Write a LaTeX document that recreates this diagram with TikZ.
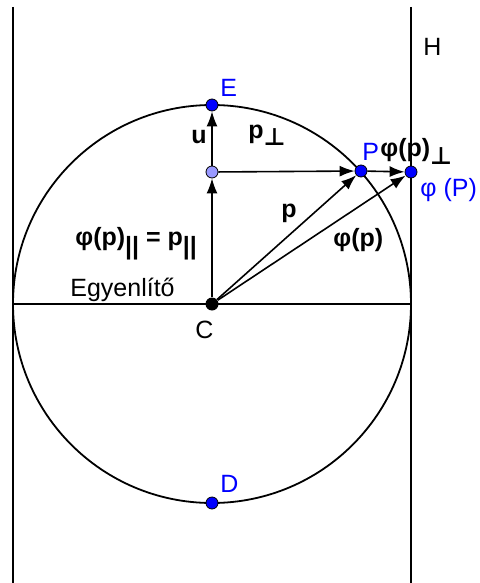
\documentclass[tikz,border=0pt]{standalone}
\usepackage{fontspec}
\setmainfont{Liberation Sans}
\newfontfamily\symf{DejaVu Sans}
\usetikzlibrary{arrows.meta}
\definecolor{ptblue}{RGB}{0,0,255}
\definecolor{ptlight}{RGB}{153,153,255}
\newcommand{\perpsub}{\raisebox{-4pt}{\symf\fontsize{12}{13}\selectfont ⊥}}
\newcommand{\parsub}{\raisebox{-4.5pt}{\fontsize{12.5}{13}\selectfont ||}}
\begin{document}
\begin{tikzpicture}[x=0.5pt,y=-0.5pt,
  lbl/.style={font=\fontsize{12.5}{15}\selectfont, inner sep=0pt},
  bl/.style={inner sep=0pt, font=\fontsize{12.5}{15}\selectfont\bfseries},
  bluelbl/.style={lbl, text=ptblue},
  vec/.style={-{Latex[length=7.5pt,width=5.5pt]}, line width=0.8pt},
  bpt/.style={circle, draw=black, fill=ptblue, line width=0.4pt, minimum size=6pt, inner sep=0pt},
  geom/.style={line width=0.9pt}]
\useasboundingbox (0,0) rectangle (480,583);
% geometry
\coordinate (O) at (212,304);
\draw[geom] (O) circle[radius=199];
\coordinate (Lt) at (13,7);
\coordinate (Lb) at (13,583);
\coordinate (Ht) at (411,7);
\coordinate (Hb) at (411,583);
\coordinate (Wq) at (13,304);
\coordinate (Eq) at (411,304);
\draw[geom] (Lt) -- (Lb);
\draw[geom] (Ht) -- (Hb);
\draw[geom] (Wq) -- (Eq);
% points
\node[circle, fill=black, minimum size=6.5pt, inner sep=0pt] (C) at (212,304) {};
\node[bpt] (E) at (212,105) {};
\node[bpt, fill=ptlight] (Q) at (212,172) {};
\node[bpt] (P) at (361,171) {};
\node[bpt] (F) at (411,172) {};
\node[bpt] (D) at (212,503) {};
% vectors
\draw[vec] (C) -- (Q);
\draw[vec] (Q) -- (E);
\draw[vec] (Q) -- (P);
\draw[vec] (C) -- (P);
\draw[vec] (C) -- (F);
\draw[vec] (P) -- (F);
% labels
\node[lbl, anchor=base west] (Hl) at (423,56) {H};
\node[bluelbl, anchor=base west] (El) at (220,97) {E};
\node[bluelbl, anchor=base west] (Dl) at (220,492) {D};
\node[bluelbl, anchor=base west] (Pl) at (362,160) {P};
\node[bluelbl, anchor=base west] (Fl) at (420,196) {φ (P)};
\node[lbl, anchor=base west] (Cl) at (195,338) {C};
\node[lbl, anchor=base west] (Eql) at (70,296) {Egyenlítő};
\node[bl, anchor=base west] (ul) at (191,143) {u};
\node[bl, anchor=base west] (pperp) at (248,138) {p\perpsub};
\node[bl, anchor=base west] (Fperp) at (380,156) {φ(p)\perpsub};
\node[bl, anchor=base west] (pl) at (281,217) {p};
\node[bl, anchor=base west] (Fl2) at (333,246) {φ(p)};
\node[bl, anchor=base west] (parl) at (75,245) {φ(p)\parsub\ = p\parsub};
\end{tikzpicture}
\end{document}
